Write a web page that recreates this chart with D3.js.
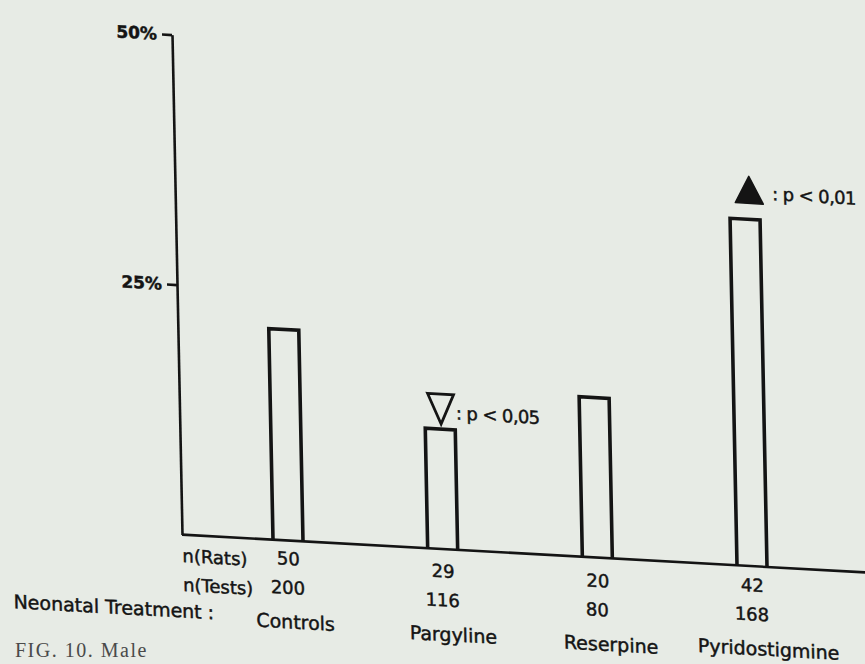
<!DOCTYPE html>
<html>
<head>
<meta charset="utf-8">
<script src="https://cdn.jsdelivr.net/npm/d3@7/dist/d3.min.js"></script>
<style>
  html, body { margin: 0; padding: 0; background: #e7ebe5; }
  svg { display: block; }
  text.lbl { font-family: "DejaVu Sans", sans-serif; fill: #141414; stroke: #141414; stroke-width: 0.45px; }
</style>
</head>
<body>
<svg id="chart" width="865" height="664"></svg>
<script>
// ---- data ----
const categories = ["Controls", "Pargyline", "Reserpine", "Pyridostigmine"];
const values = [21.1, 12.0, 16.0, 34.7];          // % per treatment
const nRats = [50, 29, 20, 42];
const nTests = [200, 116, 80, 168];
const significance = [null, "down", null, "up"];
const pLabels = ["", ": p < 0,05", "", ": p < 0,01"];
const yTicks = [25, 50];
const yTickLabels = ["25%", "50%"];
const rowLabels = ["n(Rats)", "n(Tests)"];
const treatmentLabel = "Neonatal Treatment :";
const captionText = "FIG. 10. Male";

// ---- layout ----
const W = 865, H = 664;
const svg = d3.select("#chart");
svg.append("rect").attr("width", W).attr("height", H).attr("fill", "#e7ebe5");

// the scanned page is slightly sheared; reproduce it with a transform
const g = svg.append("g")
  .attr("transform", "translate(182,534.6) matrix(1,0.0553,0.02,1,0,0)");

const x = d3.scalePoint().domain(categories).range([106, 570]);
const y = d3.scaleLinear().domain([0, 50]).range([0, -500]);
const barW = 30;
// small per-column vertical offsets that mimic the curved page under the labels
const labelDrop = [-3, 1, 2, -2];

// y axis
const yAxis = d3.axisLeft(y)
  .tickValues(yTicks)
  .tickFormat((d, i) => yTickLabels[i])
  .tickSize(10)
  .tickSizeOuter(0)
  .tickPadding(5);
const ya = g.append("g").call(yAxis);
ya.select(".domain").attr("stroke", "#141414").attr("stroke-width", 2.6);
ya.selectAll(".tick line").attr("stroke", "#141414").attr("stroke-width", 2.6);
ya.selectAll(".tick text")
  .attr("class", "lbl")
  .attr("font-family", "DejaVu Sans, sans-serif")
  .attr("font-size", 17).attr("font-weight", "bold");

// baseline
g.append("line")
  .attr("x1", 0).attr("x2", 720).attr("y1", 0).attr("y2", 0)
  .attr("stroke", "#141414").attr("stroke-width", 2.6);

// bars (open at the bottom, sitting on the baseline)
g.selectAll("path.bar").data(categories).join("path")
  .attr("class", "bar")
  .attr("d", (c, i) => {
    const x0 = x(c) - barW / 2, x1 = x(c) + barW / 2, t = y(values[i]);
    return `M${x0},0V${t}H${x1}V0`;
  })
  .attr("fill", "none").attr("stroke", "#141414").attr("stroke-width", 3.6)
  .attr("stroke-linejoin", "miter");

// significance markers
categories.forEach((c, i) => {
  const s = significance[i];
  if (!s) return;
  const top = y(values[i]);
  const cx = x(c) - 0.02 * top * 0.8; // compensate shear for the marker
  if (s === "down") {
    g.append("path")
      .attr("d", `M${cx - 14},${top - 35}H${cx + 12}L${cx - 1},${top - 5}Z`)
      .attr("fill", "none").attr("stroke", "#141414").attr("stroke-width", 2.8)
      .attr("stroke-linejoin", "miter");
    g.append("text").attr("class", "lbl").attr("x", cx + 14).attr("y", top - 17)
      .attr("dominant-baseline", "central")
      .attr("font-size", 18).attr("letter-spacing", -0.6)
      .text(pLabels[i]);
  } else {
    g.append("path")
      .attr("d", `M${cx - 15},${top - 16}H${cx + 13}L${cx - 1},${top - 43}Z`)
      .attr("fill", "#141414").attr("stroke", "#141414").attr("stroke-width", 1.5)
      .attr("stroke-linejoin", "round");
    g.append("text").attr("class", "lbl").attr("x", cx + 22).attr("y", top - 27)
      .attr("dominant-baseline", "central")
      .attr("font-size", 18).attr("letter-spacing", -0.6)
      .text(pLabels[i]);
  }
});

// row labels
g.append("text").attr("class", "lbl").attr("x", 0).attr("y", 21).attr("dominant-baseline", "central")
  .attr("font-size", 18).text(rowLabels[0]);
g.append("text").attr("class", "lbl").attr("x", 0).attr("y", 50).attr("dominant-baseline", "central")
  .attr("font-size", 18).text(rowLabels[1]);
g.append("text").attr("class", "lbl").attr("x", -170).attr("y", 76).attr("dominant-baseline", "central")
  .attr("font-size", 19).text(treatmentLabel);

// counts & treatment names
g.selectAll("text.nr").data(categories).join("text").attr("class", "lbl nr")
  .attr("x", c => x(c)).attr("y", (c, i) => 21 + labelDrop[i]).attr("text-anchor", "middle")
  .attr("dominant-baseline", "central").attr("font-size", 18)
  .text((c, i) => nRats[i]);
g.selectAll("text.nt").data(categories).join("text").attr("class", "lbl nt")
  .attr("x", c => x(c) - 1).attr("y", (c, i) => 50 + labelDrop[i]).attr("text-anchor", "middle")
  .attr("dominant-baseline", "central").attr("font-size", 18)
  .text((c, i) => nTests[i]);
g.selectAll("text.cat").data(categories).join("text").attr("class", "lbl cat")
  .attr("x", (c, i) => x(c) + 6 + i * 3).attr("y", (c, i) => 84 + labelDrop[i]).attr("text-anchor", "middle")
  .attr("dominant-baseline", "central").attr("font-size", 19)
  .text(c => c);

// caption fragment at the bottom of the page
svg.append("text").attr("x", 15).attr("y", 657)
  .attr("font-family", "Liberation Serif, serif").attr("font-size", 20)
  .attr("letter-spacing", 1.5).attr("fill", "#4a4a4a")
  .text(captionText);
</script>
</body>
</html>
